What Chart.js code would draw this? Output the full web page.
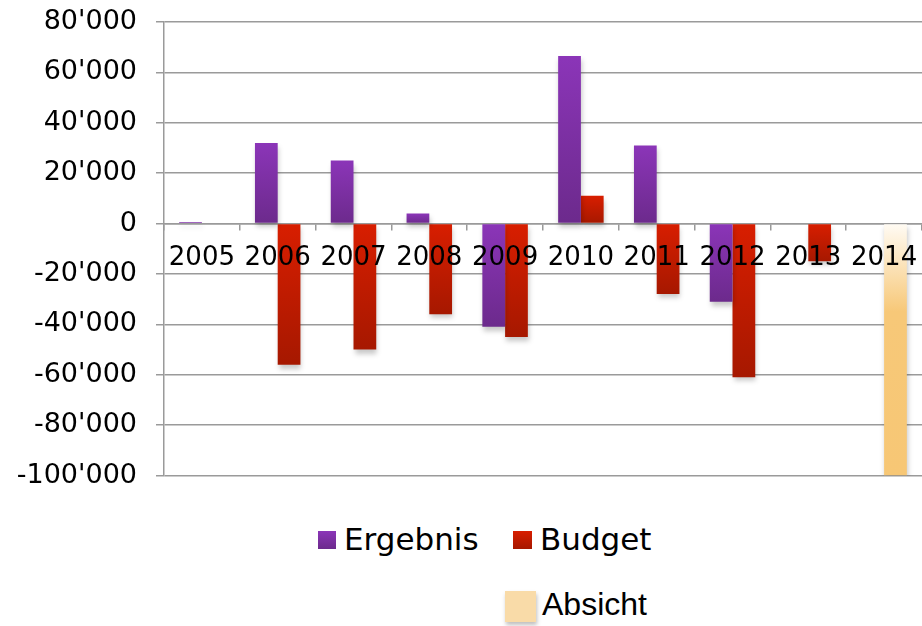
<!DOCTYPE html>
<html lang="de">
<head>
<meta charset="UTF-8">
<title>Ergebnis / Budget</title>
<style>
    body { margin: 0; background: #fff; }
    .wrap { position: relative; width: 922px; height: 626px; }
    .chart-box { position: absolute; left: 0; top: 0; width: 922px; height: 500px; }
    .lg { position: absolute; color: #000; white-space: nowrap; }
    .sw { position: absolute; }
</style>
</head>
<body>
<div class="wrap">
    <div class="chart-box"><canvas id="chart"></canvas></div>

    <!-- legende -->
    <div class="sw" style="left:318px;top:531px;width:18px;height:18px;background:linear-gradient(#8b35b8,#6c2a8c);"></div>
    <div class="lg" style="left:344px;top:521px;font:31px 'DejaVu Sans';">Ergebnis</div>
    <div class="sw" style="left:513px;top:531px;width:19px;height:18px;background:linear-gradient(#d81e00,#a61800);"></div>
    <div class="lg" style="left:540px;top:521px;font:31px 'DejaVu Sans';">Budget</div>
    <div class="sw" style="left:505px;top:591px;width:31px;height:31px;background:#f9dba8;box-shadow:1px 3px 4px rgba(0,0,0,0.25);"></div>
    <div class="lg" style="left:542px;top:586px;font:32px 'Liberation Sans';">Absicht</div>
</div>

<script src="https://cdn.jsdelivr.net/npm/chart.js@4.4.1/dist/chart.umd.min.js"></script>
<script>
    // daten
    const years = ['2005', '2006', '2007', '2008', '2009', '2010', '2011', '2012', '2013', '2014'];
    const ergebnis = [600, 32000, 25000, 4000, -41000, 66500, 31000, -31000, null, null];
    const budget = [null, -56000, -50000, -36000, -45000, 11000, -28000, -61000, -15000, null];
    const absicht = [null, null, null, null, null, null, null, null, null, -100000];

    const yMin = -100000, yMax = 80000, yStep = 20000;

    // verlauf pro balken (oben hell, unten dunkel)
    function barGradient(c1, c2, mid) {
        return function (ctx) {
            const chart = ctx.chart;
            if (!chart.chartArea || ctx.raw == null) return c1;
            const y = chart.scales.y;
            const p0 = y.getPixelForValue(0);
            const p1 = y.getPixelForValue(ctx.raw);
            const top = Math.min(p0, p1), bot = Math.max(p0, p1);
            const g = chart.ctx.createLinearGradient(0, top, 0, bot + 0.01);
            g.addColorStop(0, c1);
            if (mid) g.addColorStop(0.35, mid);
            g.addColorStop(1, c2);
            return g;
        };
    }

    // schatten unter den balken
    const shadowPlugin = {
        id: 'shadow',
        beforeDatasetsDraw(chart) {
            const c = chart.ctx;
            c.save();
            c.shadowColor = 'rgba(0,0,0,0.22)';
            c.shadowBlur = 5;
            c.shadowOffsetX = 1;
            c.shadowOffsetY = 4;
        },
        afterDatasetsDraw(chart) {
            chart.ctx.restore();
        }
    };

    const fmt = v => {
        const s = Math.abs(v).toString().replace(/\B(?=(\d{3})+(?!\d))/g, "'");
        return (v < 0 ? '-' : '') + s;
    };

    new Chart(document.getElementById('chart'), {
        type: 'bar',
        data: {
            labels: years,
            datasets: [
                {
                    label: 'Ergebnis',
                    data: ergebnis,
                    stack: 'a',
                    backgroundColor: barGradient('#8b35b8', '#6c2a8c')
                },
                {
                    label: 'Budget',
                    data: budget,
                    stack: 'b',
                    backgroundColor: barGradient('#d81e00', '#a61800')
                },
                {
                    label: 'Absicht',
                    data: absicht,
                    stack: 'b',
                    backgroundColor: barGradient('#fffbf4', '#f7c775', '#f7c878')
                }
            ]
        },
        options: {
            responsive: true,
            maintainAspectRatio: false,
            animation: false,
            categoryPercentage: 0.6,
            barPercentage: 1,
            layout: { padding: { top: 22, bottom: 24.5, left: 0, right: 0 } },
            plugins: {
                legend: { display: false },
                tooltip: { enabled: false }
            },
            scales: {
                x: {
                    stacked: true,
                    position: { y: 0 },
                    afterFit: s => { s.paddingLeft = 0; s.paddingRight = 0; },
                    border: { display: true, color: '#9a9a9a', width: 1.5 },
                    grid: {
                        drawOnChartArea: false,
                        drawTicks: true,
                        tickLength: 6,
                        color: '#9a9a9a',
                        lineWidth: 1.5
                    },
                    ticks: {
                        z: 1,
                        color: '#000',
                        padding: 13.5,
                        maxRotation: 0,
                        autoSkip: false,
                        font: { family: 'DejaVu Sans', size: 26 }
                    }
                },
                y: {
                    stacked: true,
                    min: yMin,
                    max: yMax,
                    afterFit: s => { s.width = 164; s.paddingTop = 0; s.paddingBottom = 0; },
                    border: { display: true, color: '#9a9a9a', width: 1.5 },
                    grid: {
                        color: '#9a9a9a',
                        lineWidth: 1.5,
                        tickLength: 8
                    },
                    ticks: {
                        stepSize: yStep,
                        color: '#000',
                        padding: 19,
                        font: { family: 'DejaVu Sans', size: 27 },
                        callback: v => fmt(v)
                    }
                }
            }
        },
        plugins: [shadowPlugin]
    });
</script>
</body>
</html>
